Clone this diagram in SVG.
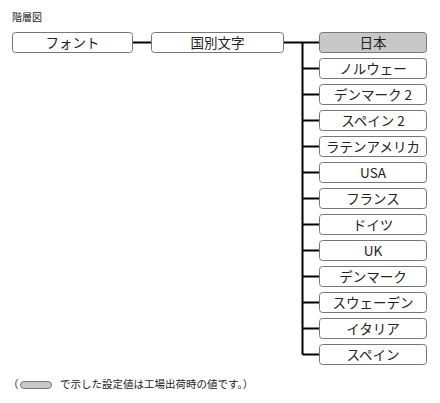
<svg xmlns="http://www.w3.org/2000/svg" width="440" height="403" viewBox="0 0 440 403">
<style>
.box{fill:#fff;stroke:#777;stroke-width:1}
.def{fill:#c8c8c8}
.lbl{font-family:"Noto Sans CJK JP","Liberation Sans",sans-serif;font-size:13.5px;fill:#222;text-anchor:middle}
.note{font-family:"Noto Sans CJK JP","Liberation Sans",sans-serif;font-size:10px;fill:#222}
.foot{font-size:10.5px}
.ln{stroke:#000;stroke-width:2;fill:none}
</style>
<rect width="440" height="403" fill="#fff"/>
<text class="note" x="12" y="21">階層図</text>
<g id="connectors">
<path class="ln" d="M133 42.5H151M284 42.5H319M302.5 42.5V354.5"/>
<path class="ln" d="M302.5 68.5H319M302.5 94.5H319M302.5 120.5H319M302.5 146.5H319M302.5 172.5H319M302.5 198.5H319M302.5 224.5H319M302.5 250.5H319M302.5 276.5H319M302.5 302.5H319M302.5 328.5H319M302.5 354.5H319"/>
</g>
<g id="font"><rect class="box" x="12.5" y="32.5" width="120" height="20" rx="3"/><text class="lbl" x="72.5" y="47.5">フォント</text></g>
<g id="kokubetsu"><rect class="box" x="151.5" y="32.5" width="132" height="20" rx="3"/><text class="lbl" x="217.5" y="47.5">国別文字</text></g>
<g id="n0"><rect class="box def" x="319.5" y="32.5" width="107" height="20" rx="3"/><text class="lbl" x="373" y="47.5">日本</text></g>
<g id="n1"><rect class="box" x="319.5" y="58.5" width="107" height="20" rx="3"/><text class="lbl" x="373" y="73.5">ノルウェー</text></g>
<g id="n2"><rect class="box" x="319.5" y="84.5" width="107" height="20" rx="3"/><text class="lbl" x="373" y="99.5">デンマーク 2</text></g>
<g id="n3"><rect class="box" x="319.5" y="110.5" width="107" height="20" rx="3"/><text class="lbl" x="373" y="125.5">スペイン 2</text></g>
<g id="n4"><rect class="box" x="319.5" y="136.5" width="107" height="20" rx="3"/><text class="lbl" x="373" y="151.5">ラテンアメリカ</text></g>
<g id="n5"><rect class="box" x="319.5" y="162.5" width="107" height="20" rx="3"/><text class="lbl" x="373" y="177.5">USA</text></g>
<g id="n6"><rect class="box" x="319.5" y="188.5" width="107" height="20" rx="3"/><text class="lbl" x="373" y="203.5">フランス</text></g>
<g id="n7"><rect class="box" x="319.5" y="214.5" width="107" height="20" rx="3"/><text class="lbl" x="373" y="229.5">ドイツ</text></g>
<g id="n8"><rect class="box" x="319.5" y="240.5" width="107" height="20" rx="3"/><text class="lbl" x="373" y="255.5">UK</text></g>
<g id="n9"><rect class="box" x="319.5" y="266.5" width="107" height="20" rx="3"/><text class="lbl" x="373" y="281.5">デンマーク</text></g>
<g id="n10"><rect class="box" x="319.5" y="292.5" width="107" height="20" rx="3"/><text class="lbl" x="373" y="307.5">スウェーデン</text></g>
<g id="n11"><rect class="box" x="319.5" y="318.5" width="107" height="20" rx="3"/><text class="lbl" x="373" y="333.5">イタリア</text></g>
<g id="n12"><rect class="box" x="319.5" y="344.5" width="107" height="20" rx="3"/><text class="lbl" x="373" y="359.5">スペイン</text></g>
<g id="footnote">
<text class="note foot" x="8" y="388">（</text>
<rect class="box def" x="20.5" y="381.5" width="31" height="7" rx="3.5"/>
<text class="note foot" x="60" y="388">で示した設定値は工場出荷時の値です。）</text>
</g>
</svg>
